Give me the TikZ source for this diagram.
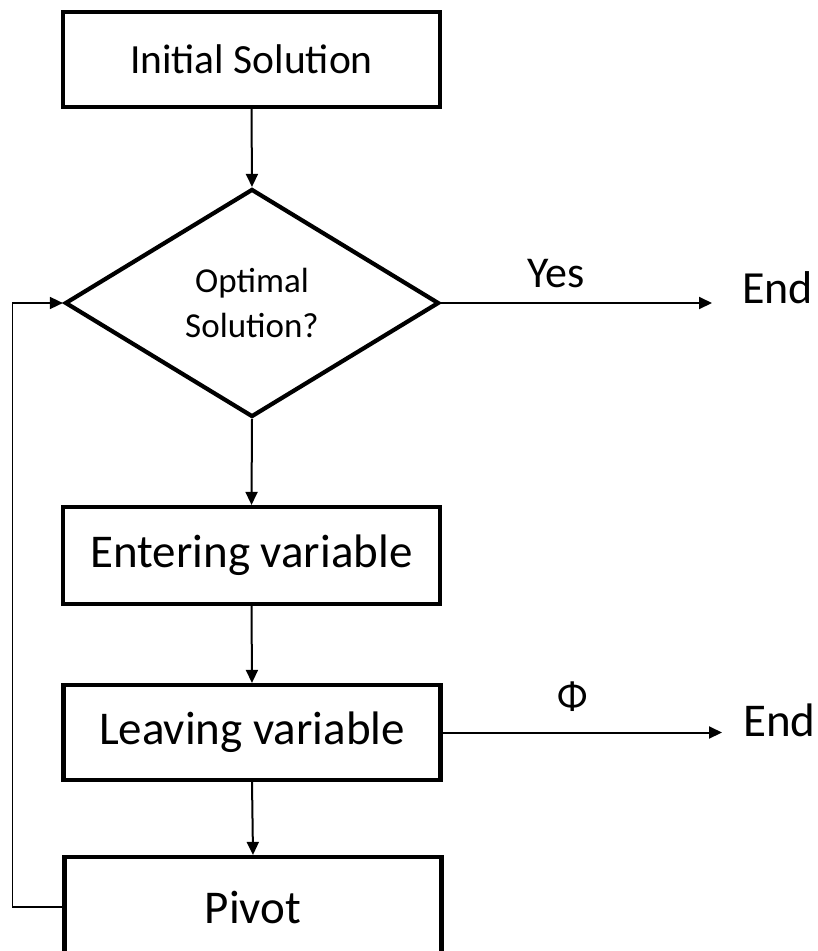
\documentclass[tikz,border=0pt]{standalone}
\usepackage{fontspec}
\setmainfont{Carlito}
\usetikzlibrary{shapes.geometric,arrows.meta}
\tikzset{
  boxnode/.style={draw, line width=4.2pt, rectangle, inner sep=0pt, minimum width=377pt, minimum height=95pt},
  decnode/.style={draw, line width=4.2pt, diamond, inner sep=0pt, minimum width=374pt, minimum height=228pt, align=center},
  arr/.style={line width=2pt, -{Triangle[length=13pt,width=12pt]}},
  looparr/.style={line width=1.6pt, -{Triangle[length=13pt,width=12pt]}},
  fA/.style={font=\fontsize{41.5}{48}\selectfont},
  fB/.style={font=\fontsize{47}{54}\selectfont},
  fC/.style={font=\fontsize{35}{45}\selectfont},
  fL/.style={font=\fontsize{44}{50}\selectfont, inner sep=0pt},
}
\begin{document}
\begin{tikzpicture}[x=1pt,y=-1pt]
\useasboundingbox (0,0) rectangle (818,951);
\clip (0,0) rectangle (818,951);
\node[boxnode, fA] (init) at (251.5,59.5) {Initial Solution};
\node[decnode, fC] (dec) at (252,303) {Optimal\\Solution?};
\node[boxnode, fB, minimum height=97pt] (enter) at (251.5,555.5) {Entering variable};
\node[boxnode, fB, minimum height=95pt] (leave) at (252,732.5) {Leaving variable};
\node[boxnode, fB, minimum height=100pt] (pivot) at (253,907) {Pivot};
\node[fL, anchor=base west, font=\fontsize{46}{52}\selectfont] (end1) at (742,303) {End};
\node[fL, anchor=base west, font=\fontsize{47}{52}\selectfont] (end2) at (743,736) {End};
\node[fL, anchor=base] (yes) at (556,287) {Yes};
\node[fL, anchor=base, font=\fontsize{40}{46}\selectfont] (phi) at (573,709) {Φ};
\coordinate (t1) at ([xshift=-30pt]end1.base west);
\coordinate (t2) at ([xshift=-21pt]end2.base west |- leave.east);
\draw[arr] (init.south) -- (dec.north);
\draw[arr] (dec.south) -- (enter.north);
\draw[arr] (enter.south) -- (leave.north);
\draw[arr] (leave.south) -- (pivot.north);
\draw[arr] (dec.east) -- (t1);
\draw[arr] (leave.east) -- (t2);
\draw[looparr] (pivot.west) -- ++(-50,0) |- (dec.west);
\end{tikzpicture}
\end{document}
